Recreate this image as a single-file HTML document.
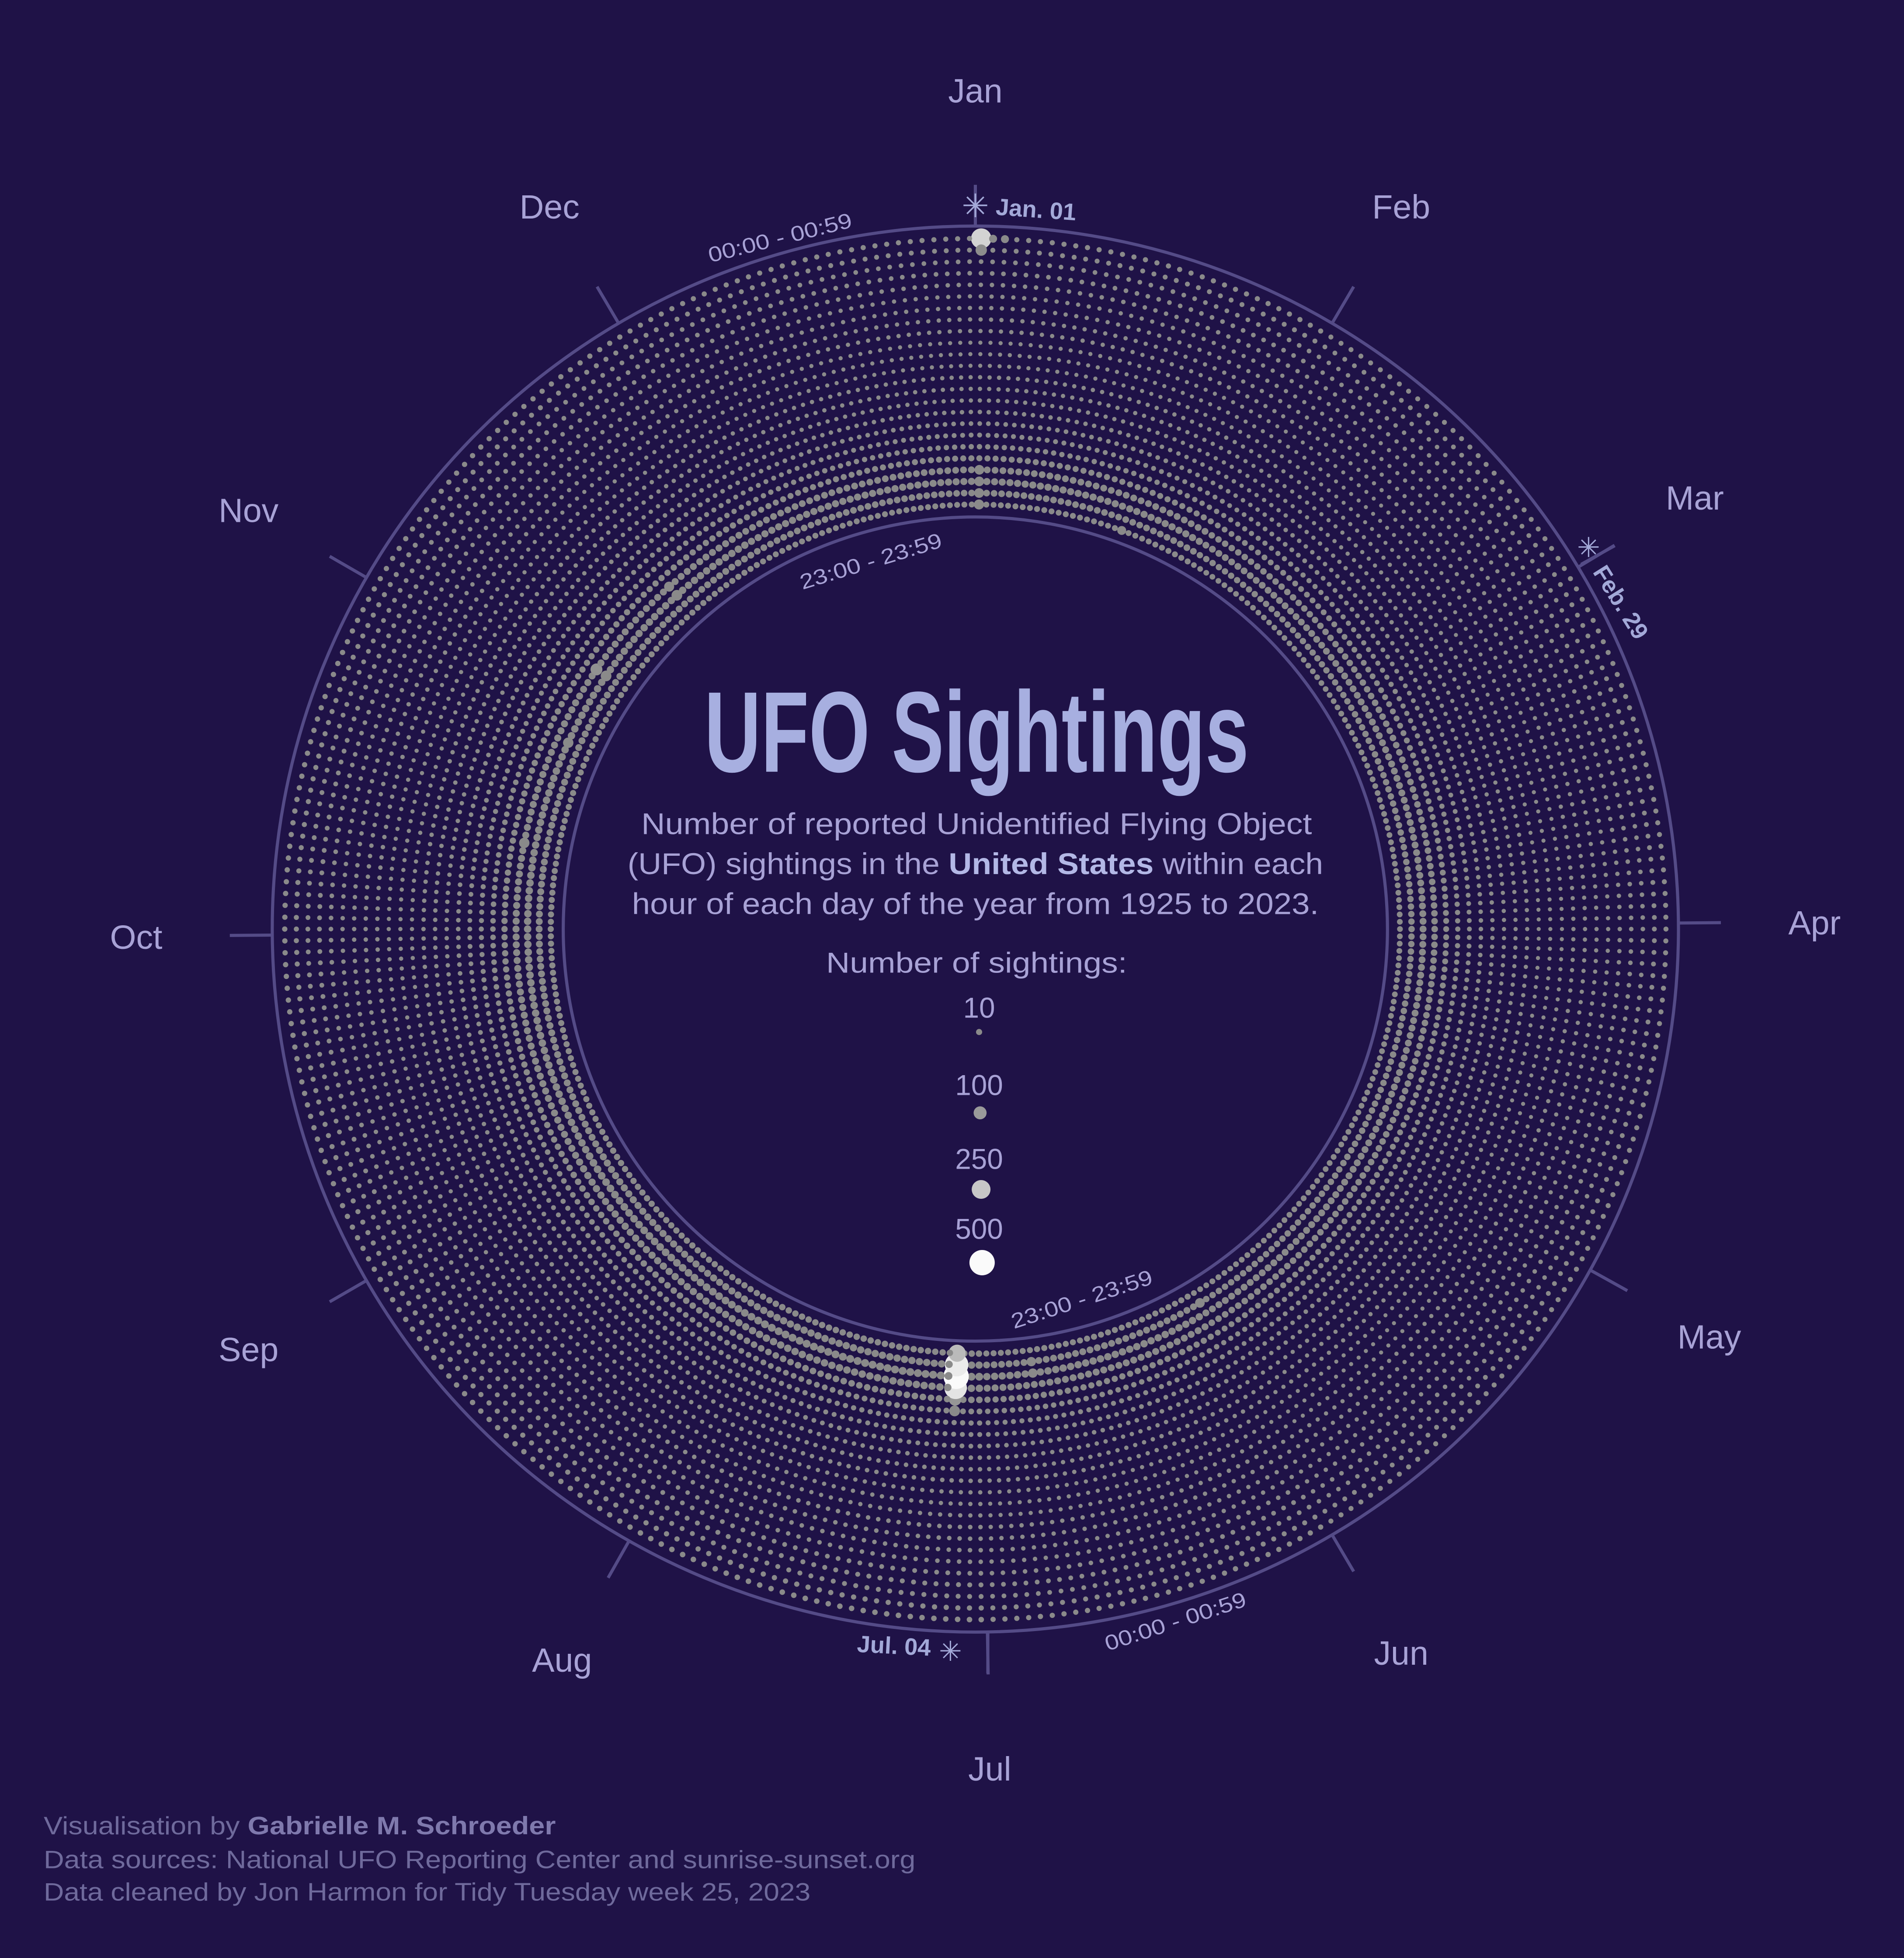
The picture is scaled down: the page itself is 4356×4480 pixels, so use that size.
<!DOCTYPE html>
<html><head><meta charset="utf-8">
<style>
html,body{margin:0;padding:0;background:#1f1247;}
svg{display:block;}
</style></head>
<body>
<svg id="chart" width="4356" height="4480" viewBox="0 0 1524.6 1568" xmlns="http://www.w3.org/2000/svg" font-family="'Liberation Sans', sans-serif">
  <rect x="0" y="0" width="1524.6" height="1568" fill="#1f1247"/>
  <circle cx="781" cy="744" r="563" fill="none" stroke="#544b87" stroke-width="2.5"/>
  <circle cx="781" cy="744" r="330" fill="none" stroke="#544b87" stroke-width="2.5"/>
  <g id="ticks"></g>
  <g id="dots"></g>
  <g id="months" font-size="27" fill="#a8a2d6" text-anchor="middle"></g>

  <g fill="#a8a2d6" font-size="17" text-anchor="middle">
    <text transform="translate(626,196) rotate(-14)" textLength="118" lengthAdjust="spacingAndGlyphs">00:00 - 00:59</text>
    <text transform="translate(699,455) rotate(-17)" textLength="118" lengthAdjust="spacingAndGlyphs">23:00 - 23:59</text>
    <text transform="translate(868,1046) rotate(-18)" textLength="118" lengthAdjust="spacingAndGlyphs">23:00 - 23:59</text>
    <text transform="translate(943,1304) rotate(-18)" textLength="118" lengthAdjust="spacingAndGlyphs">00:00 - 00:59</text>
  </g>

  <g fill="#a3a9d8" font-weight="bold" font-size="19">
    <line x1="781" y1="148" x2="781" y2="181" stroke="#544b87" stroke-width="2.5"/>
    <text x="781" y="174" text-anchor="middle" font-size="26" font-weight="normal">✳</text>
    <text transform="translate(797,172) rotate(4)">Jan. 01</text>
    <line x1="1266" y1="452" x2="1293" y2="437" stroke="#544b87" stroke-width="2.5"/>
    <text x="1272" y="446" text-anchor="middle" font-size="22" font-weight="normal">✳</text>
    <text transform="translate(1275,458) rotate(58)">Feb. 29</text>
    <line x1="791" y1="1307" x2="791" y2="1340" stroke="#544b87" stroke-width="2.5"/>
    <text x="761" y="1330" text-anchor="middle" font-size="22" font-weight="normal">✳</text>
    <text transform="translate(745,1326) rotate(3)" text-anchor="end">Jul. 04</text>
  </g>

  <text x="782" y="618" text-anchor="middle" font-family="'Liberation Sans Narrow','Liberation Sans',sans-serif" font-weight="bold" font-size="92" fill="#a7afe0" textLength="436" lengthAdjust="spacingAndGlyphs">UFO Sightings</text>
  <g fill="#a8a2d6" font-size="24" text-anchor="middle">
    <text x="782" y="668" textLength="537" lengthAdjust="spacingAndGlyphs">Number of reported Unidentified Flying Object</text>
    <text x="781" y="700" textLength="557" lengthAdjust="spacingAndGlyphs">(UFO) sightings in the <tspan font-weight="bold" fill="#b3b8e6">United States</tspan> within each</text>
    <text x="781" y="732" textLength="550" lengthAdjust="spacingAndGlyphs">hour of each day of the year from 1925 to 2023.</text>
  </g>

  <g id="legend" fill="#a8a2d6" font-size="23" text-anchor="middle">
    <text x="782" y="779" textLength="241" lengthAdjust="spacingAndGlyphs">Number of sightings:</text>
  </g>

  <g fill="#6f6a9c" font-size="20">
    <text x="35" y="1469" textLength="410" lengthAdjust="spacingAndGlyphs">Visualisation by <tspan font-weight="bold" fill="#7f79ad">Gabrielle M. Schroeder</tspan></text>
    <text x="35" y="1496" textLength="698" lengthAdjust="spacingAndGlyphs">Data sources: National UFO Reporting Center and sunrise-sunset.org</text>
    <text x="35" y="1522" textLength="614" lengthAdjust="spacingAndGlyphs">Data cleaned by Jon Harmon for Tidy Tuesday week 25, 2023</text>
  </g>
</svg>
<script>
// ---- data ----
const monthNames = ["Jan","Feb","Mar","Apr","May","Jun","Jul","Aug","Sep","Oct","Nov","Dec"];
const monthDays = [31,29,31,30,31,30,31,31,30,31,30,31];
// typical sightings per hour-of-day (hour 0 = outer ring, hour 23 = inner ring)
const hourBase = [5,4,3,3,2.5,2,2,2,2,1.5,1.5,1.5,2,2,2,2.5,3,4,6,10,15,18,14,9];
// seasonal multiplier per month
const monthFactor = [0.95,0.8,0.85,0.85,0.85,1.05,1.3,1.2,1.1,1.1,1.05,0.95];
// notable days: [dayOfYear index, hour, count]
const specialDay = [0,0,0,0,0,0,185,185,185,185,185,185,309,309,323,323,299,285,175,175,20,151,1,2];
const specialHour = [0,1,20,21,22,23,19,20,21,22,23,18,20,21,21,20,21,20,21,22,23,22,0,0];
const specialCount = [300,70,45,45,45,50,90,380,500,420,200,60,80,60,60,50,55,55,40,40,35,45,25,25];
const legendValues = [10,100,250,500];
const legendLabels = ["10","100","250","500"];

// ---- scales ----
const CX=781, CY=744, R_OUT=553, R_IN=340, NS="http://www.w3.org/2000/svg";
const totalDays = 366;
const angleOf = d => (d + 0.5) / totalDays * 2 * Math.PI;
const radiusOf = h => R_OUT - h * (R_OUT - R_IN) / 23;
const sizeOf = n => 1.2 + 0.4 * Math.sqrt(n);
function colorOf(n){
  const t = Math.max(0, Math.min(1, (Math.sqrt(n) - 8) / (Math.sqrt(500) - 8)));
  const c = v => Math.round(138 + (250 - 138) * v);
  return "rgb(" + c(t) + "," + c(t) + "," + c(t) + ")";
}

// ---- counts ----
const counts = [];
let doy = 0;
const monthStart = [];
for (let m = 0; m < 12; m++) {
  monthStart.push(doy);
  for (let i = 0; i < monthDays[m]; i++) {
    counts[doy] = hourBase.map(v => v * monthFactor[m]);
    doy++;
  }
}
for (let i = 0; i < specialDay.length; i++) counts[specialDay[i]][specialHour[i]] = specialCount[i];

// ---- dots ----
const dotsG = document.getElementById("dots");
let html = "";
for (let d = 0; d < totalDays; d++) {
  const a = angleOf(d);
  const sa = Math.sin(a), ca = Math.cos(a);
  for (let h = 0; h < 24; h++) {
    const n = counts[d][h];
    if (n <= 0) continue;
    const r = radiusOf(h);
    html += '<circle cx="' + (CX + r * sa).toFixed(1) + '" cy="' + (CY - r * ca).toFixed(1) + '" r="' + sizeOf(n).toFixed(2) + '" fill="' + colorOf(n) + '"/>';
  }
}
dotsG.innerHTML = html;

// ---- month ticks & labels ----
const ticksG = document.getElementById("ticks");
const monthsG = document.getElementById("months");
for (let m = 0; m < 12; m++) {
  const a = monthStart[m] / totalDays * 2 * Math.PI;
  const sa = Math.sin(a), ca = Math.cos(a);
  if (m > 0) {
    const ln = document.createElementNS(NS, "line");
    
    
    ln.setAttribute("x1", CX + 563 * sa); ln.setAttribute("y1", CY - 563 * ca);
    ln.setAttribute("x2", CX + 597 * sa); ln.setAttribute("y2", CY - 597 * ca);
    ln.setAttribute("stroke", "#544b87"); ln.setAttribute("stroke-width", "2.5");
    ticksG.appendChild(ln);
  }
  const t = document.createElementNS(NS, "text");
  
  
  t.setAttribute("x", CX + 672 * sa);
  t.setAttribute("y", CY - 672 * ca + 10);
  t.textContent = monthNames[m];
  monthsG.appendChild(t);
}

// ---- legend ----
const legendG = document.getElementById("legend");
const legendY = [808, 870, 929, 985];
for (let i = 0; i < legendValues.length; i++) {
  const t = document.createElementNS(NS, "text");
  
  
  t.setAttribute("x", 784); t.setAttribute("y", legendY[i] + 7);
  t.textContent = legendLabels[i];
  legendG.appendChild(t);
  const c = document.createElementNS(NS, "circle");
  
  
  c.setAttribute("cx", 784 + i * 0.8);
  c.setAttribute("cy", legendY[i] + 16 + sizeOf(legendValues[i]));
  c.setAttribute("r", sizeOf(legendValues[i]));
  c.setAttribute("fill", colorOf(legendValues[i]));
  legendG.appendChild(c);
}
</script>
</body></html>
